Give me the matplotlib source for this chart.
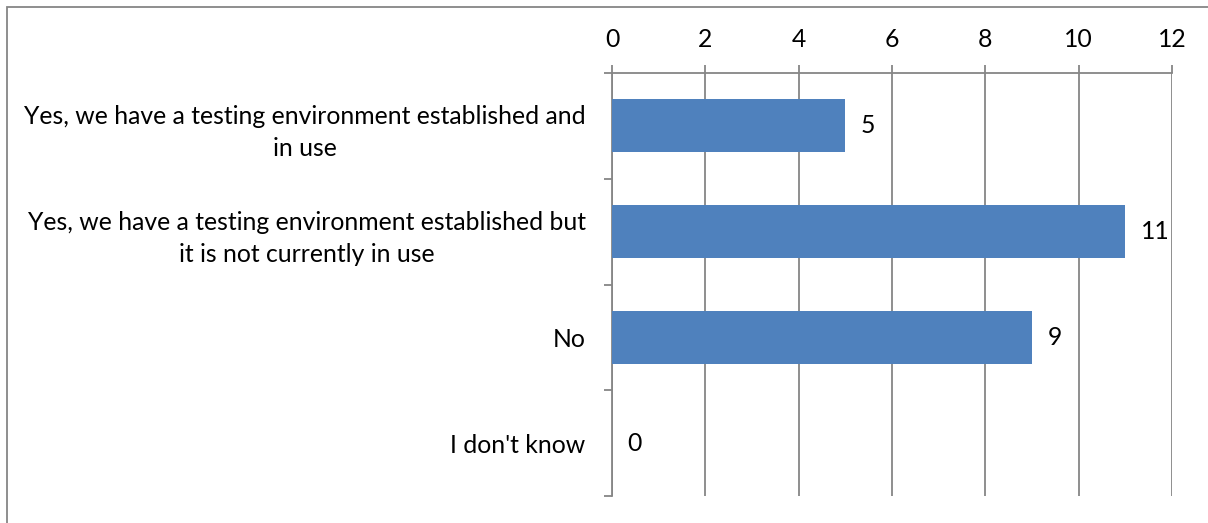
import matplotlib.pyplot as plt
from matplotlib.patches import Rectangle

# 데이터
categories = ["Yes, we have a testing environment established and\nin use",
              "Yes, we have a testing environment established but\nit is not currently in use",
              "No",
              "I don't know"]
values = [5, 11, 9, 0]
xticks = [0, 2, 4, 6, 8, 10, 12]

plt.rcParams['font.family'] = ['Lato', 'DejaVu Sans']
fs = 17.8

fig = plt.figure(figsize=(12.08, 5.23), dpi=100)
ax = fig.add_axes([612/1208, 1-496/523, (1172-612)/1208, (496-73)/523])

y = list(range(len(categories)))
ax.barh(y, values, height=0.5, color="#4F81BD", zorder=3)
ax.set_ylim(len(categories)-0.5, -0.5)
ax.set_xlim(0, 12)

# 값 라벨
for yi, v in zip(y, values):
    ax.annotate(str(v), (v, yi), xytext=(11, 0), textcoords="offset points",
                va="center", ha="left", fontsize=fs)

ax.xaxis.tick_top()
ax.set_xticks(xticks)
ax.set_xticklabels([str(t) for t in xticks], fontsize=fs)
ax.tick_params(axis="x", length=5.5, color="#868686", width=1.3, pad=10)
ax.grid(axis="x", color="#868686", linewidth=1.3, zorder=0)

# 카테고리 경계 눈금
ax.set_yticks([-0.5, 0.5, 1.5, 2.5, 3.5])
ax.set_yticklabels([])
ax.tick_params(axis="y", length=6, color="#868686", width=1.3)
ax.set_yticks(y, minor=True)
ax.set_yticklabels(categories, minor=True, fontsize=fs, ha="right",
                   multialignment="center", linespacing=1.5)
ax.tick_params(axis="y", which="minor", length=0, pad=19)

for s in ["right", "bottom"]:
    ax.spines[s].set_visible(False)
for s in ["left", "top"]:
    ax.spines[s].set_color("#868686")
    ax.spines[s].set_linewidth(1.3)

# 바깥 테두리
fig.patches.append(Rectangle((7/1208, -0.1), 1.2, 1.1 - 7/523,
                             transform=fig.transFigure, fill=False,
                             edgecolor="#868686", linewidth=1.3))

fig.savefig("out.png", dpi=100)
